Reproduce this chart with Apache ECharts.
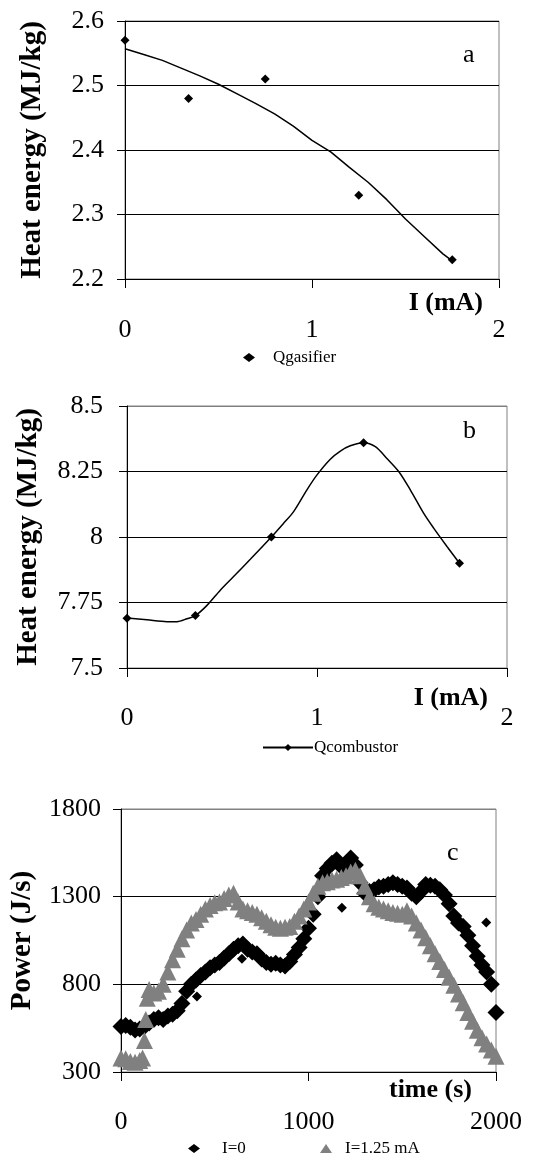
<!DOCTYPE html>
<html>
<head>
<meta charset="utf-8">
<script src="https://cdn.jsdelivr.net/npm/echarts@6/dist/echarts.min.js"></script>
<style>
html,body{margin:0;padding:0;background:#fff;}
#chart{width:533px;height:1154px;}
</style>
</head>
<body>
<div id="chart"></div>
<script>
// ---- Chart a: Qgasifier ----
var aCurrent = [0, 0.34, 0.75, 1.25, 1.75];
var aQgasifier = [2.57, 2.48, 2.51, 2.33, 2.23];
var aTrendX = [0, 0.1, 0.2, 0.3, 0.4, 0.5, 0.6, 0.7, 0.8, 0.9, 1.0, 1.1, 1.2, 1.3, 1.4, 1.5, 1.6, 1.7, 1.75];
var aTrendY = [2.557, 2.548, 2.539, 2.527, 2.515, 2.502, 2.487, 2.472, 2.456, 2.437, 2.415, 2.397, 2.373, 2.350, 2.323, 2.293, 2.266, 2.239, 2.228];
var aYTicks = [2.2, 2.3, 2.4, 2.5, 2.6];
var aXTicks = [0, 1, 2];

var bCurrent = [0, 0.36, 0.76, 1.245, 1.75];
var bQcombustor = [7.69, 7.70, 8.0, 8.36, 7.90];
var bCurveX = [0, 0.105, 0.21, 0.263, 0.316, 0.36, 0.421, 0.491, 0.561, 0.649, 0.76, 0.825, 0.877, 0.947, 1.0, 1.07, 1.123, 1.175, 1.245, 1.307, 1.368, 1.43, 1.491, 1.561, 1.614, 1.684, 1.75];
var bCurveY = [7.691, 7.684, 7.677, 7.677, 7.688, 7.70, 7.739, 7.797, 7.849, 7.915, 8.0, 8.053, 8.097, 8.18, 8.237, 8.297, 8.328, 8.348, 8.36, 8.345, 8.30, 8.25, 8.18, 8.091, 8.034, 7.964, 7.90];
var bYTicks = [7.5, 7.75, 8, 8.25, 8.5];
var bXTicks = [0, 1, 2];

// ---- Chart c: Power vs time ----
var cTimeI0 = [0,25,50,75,100,125,150,175,200,225,250,275,300,325,350,375,400,425,450,475,
  500,525,550,575,600,625,650,675,700,725,750,775,800,825,850,875,900,925,950,975,
  1000,1025,1050,1075,1100,1125,1150,1175,1200,1225,1250,1275,1300,1325,1350,1375,1400,1425,1450,1475,
  1500,1525,1550,1575,1600,1625,1650,1675,1700,1725,1750,1775,1800,1825,1850,1875,1900,1925,1950,1975,2000];
var cPowerI0 = [560,565,555,540,545,560,580,600,610,600,620,630,650,690,760,800,825,850,870,895,
  910,925,950,975,1000,1020,1030,1000,985,975,945,925,915,920,910,905,930,970,1010,1060,
  1120,1200,1300,1420,1460,1490,1510,1470,1490,1520,1480,1380,1320,1330,1340,1355,1360,1370,1380,1370,
  1360,1350,1320,1300,1330,1370,1365,1360,1340,1310,1260,1190,1150,1130,1080,1020,960,910,870,800,640];
var cOutlierTimeI0 = [405, 645, 1178, 1948];
var cOutlierPowerI0 = [731, 946, 1237, 1153];
var cTimeI125 = [0,25,50,75,100,115,125,132,140,150,175,200,225,250,275,300,325,350,375,400,425,450,475,
  500,525,550,575,600,625,650,675,700,725,750,775,800,825,850,875,900,925,950,975,
  1000,1025,1050,1075,1100,1125,1150,1175,1200,1225,1250,1275,1300,1325,1350,1375,1400,1425,1450,1475,
  1500,1525,1550,1575,1600,1625,1650,1675,1700,1725,1750,1775,1800,1825,1850,1875,1900,1925,1950,1975,2000];
var cPowerI125 = [380,375,360,355,365,380,480,600,720,770,750,760,800,870,940,1000,1060,1110,1150,1170,1200,1230,1250,
  1265,1270,1290,1310,1320,1270,1230,1220,1210,1200,1180,1160,1140,1125,1120,1125,1130,1160,1190,1230,
  1270,1320,1360,1380,1385,1395,1400,1410,1420,1440,1450,1420,1360,1300,1260,1240,1230,1220,1210,1205,
  1200,1220,1190,1150,1110,1065,1020,975,930,885,840,795,745,695,640,590,538,495,460,425,390];
var cYTicks = [300, 800, 1300, 1800];
var cXTicks = [0, 1000, 2000];

function pairs(xs, ys) { return xs.map(function (x, i) { return [x, ys[i]]; }); }

var FONT = '"Liberation Serif", "Times New Roman", serif';
var GRID_BORDER = '#808080';
var BLACK = '#000000';
var GRAY = '#808080';

function splitColors(n) {
  var c = [];
  for (var i = 0; i < n - 1; i++) c.push(BLACK);
  c.push(GRID_BORDER);
  return c;
}

function xAxisCfg(gridIndex, ticks, name, nameGap, namePadTop, labelMargin) {
  return {
    gridIndex: gridIndex, type: 'value',
    min: ticks[0], max: ticks[ticks.length - 1], interval: ticks[1] - ticks[0],
    axisLine: { show: true, onZero: false, lineStyle: { color: BLACK, width: 1 } },
    axisTick: { show: true, inside: false, length: 9, lineStyle: { color: BLACK } },
    axisLabel: { margin: labelMargin, fontFamily: FONT, fontSize: 26, color: BLACK,
      formatter: function (v) { return String(v); } },
    splitLine: { show: false },
    name: name, nameLocation: 'end', nameGap: nameGap,
    nameTextStyle: { fontFamily: FONT, fontWeight: 'bold', fontSize: 26, color: BLACK,
      align: 'right', verticalAlign: 'top', padding: [namePadTop, 0, 0, 0] }
  };
}

function yAxisCfg(gridIndex, ticks, name, nameGap, labelMargin, fmt) {
  return {
    gridIndex: gridIndex, type: 'value',
    min: ticks[0], max: ticks[ticks.length - 1], interval: ticks[1] - ticks[0],
    axisLine: { show: true, lineStyle: { color: BLACK, width: 1 } },
    axisTick: { show: true, inside: false, length: 8, lineStyle: { color: BLACK } },
    axisLabel: { margin: labelMargin, fontFamily: FONT, fontSize: 26, color: BLACK, formatter: fmt },
    splitLine: { show: true, lineStyle: { color: splitColors(ticks.length), width: 1 } },
    name: name, nameLocation: 'middle', nameGap: nameGap, nameRotate: 90,
    nameTextStyle: { fontFamily: FONT, fontWeight: 'bold', fontSize: 29, color: BLACK }
  };
}

function legendCfg(left, top, itemWidth, name, icon, textPad) {
  var item = icon ? { name: name, icon: icon } : name;
  return {
    left: left, top: top, padding: 0, itemWidth: itemWidth, itemHeight: 9, itemGap: 0,
    data: [item],
    textStyle: { fontFamily: FONT, fontSize: 17, lineHeight: 14, color: BLACK, padding: [0, 0, 0, textPad] }
  };
}

var option = {
  backgroundColor: '#ffffff',
  animation: false,
  textStyle: { fontFamily: FONT },
  grid: [
    { left: 125, top: 21, width: 374, height: 258, show: true, borderColor: GRID_BORDER, borderWidth: 1 },
    { left: 127, top: 406, width: 380, height: 262, show: true, borderColor: GRID_BORDER, borderWidth: 1 },
    { left: 121, top: 809, width: 375, height: 263, show: true, borderColor: GRID_BORDER, borderWidth: 1 }
  ],
  xAxis: [
    xAxisCfg(0, aXTicks, 'I (mA)', -16, 11, 38),
    xAxisCfg(1, bXTicks, 'I (mA)', -19, 17, 37),
    xAxisCfg(2, cXTicks, 'time (s)', -24, 5, 37)
  ],
  yAxis: [
    yAxisCfg(0, aYTicks, 'Heat energy (MJ/kg)', 78, 21, function (v) { return String(Math.round(v * 10) / 10); }),
    yAxisCfg(1, bYTicks, 'Heat energy (MJ/kg)', 84, 24, function (v) { return String(Math.round(v * 100) / 100); }),
    yAxisCfg(2, cYTicks, 'Power (J/s)', 84, 20, function (v) { return String(v); })
  ],
  legend: [
    legendCfg(243, 349, 12, 'Qgasifier', 'diamond', 13),
    legendCfg(262, 739, 50, 'Qcombustor', null, -4),
    legendCfg(188, 1140, 12, 'I=0', 'diamond', 17),
    legendCfg(320, 1140, 12, 'I=1.25 mA', 'triangle', 8)
  ],
  graphic: [
    { type: 'text', left: 463, top: 42, style: { text: 'a', fontFamily: FONT, fontSize: 26, fill: BLACK } },
    { type: 'text', left: 463, top: 418, style: { text: 'b', fontFamily: FONT, fontSize: 26, fill: BLACK } },
    { type: 'text', left: 447, top: 840, style: { text: 'c', fontFamily: FONT, fontSize: 26, fill: BLACK } }
  ],
  series: [
    { name: 'Qgasifier', type: 'scatter', xAxisIndex: 0, yAxisIndex: 0,
      symbol: 'diamond', symbolSize: 9, itemStyle: { color: BLACK, opacity: 1 },
      data: pairs(aCurrent, aQgasifier), z: 3 },
    { name: 'trend', type: 'line', xAxisIndex: 0, yAxisIndex: 0,
      showSymbol: false, symbol: 'none', lineStyle: { color: BLACK, width: 1.5 },
      data: pairs(aTrendX, aTrendY), z: 2 },
    { name: 'Qcombustor', type: 'line', xAxisIndex: 1, yAxisIndex: 1,
      smooth: 0.3, symbol: 'diamond', symbolSize: 9, showSymbol: false,
      itemStyle: { color: BLACK, opacity: 1 }, lineStyle: { color: BLACK, width: 1.5 },
      data: pairs(bCurveX, bCurveY), z: 2 },
    { name: 'Qcombustor', type: 'scatter', xAxisIndex: 1, yAxisIndex: 1,
      symbol: 'diamond', symbolSize: 9, itemStyle: { color: BLACK, opacity: 1 },
      data: pairs(bCurrent, bQcombustor), z: 3 },
    { name: 'I=0', type: 'scatter', xAxisIndex: 2, yAxisIndex: 2,
      symbol: 'diamond', symbolSize: 17, itemStyle: { color: BLACK, opacity: 1 },
      data: pairs(cTimeI0, cPowerI0), z: 2 },
    { name: 'I=0', type: 'scatter', xAxisIndex: 2, yAxisIndex: 2,
      symbol: 'diamond', symbolSize: 10, itemStyle: { color: BLACK, opacity: 1 },
      data: pairs(cOutlierTimeI0, cOutlierPowerI0), z: 2 },
    { name: 'I=1.25 mA', type: 'scatter', xAxisIndex: 2, yAxisIndex: 2,
      symbol: 'triangle', symbolSize: 17, itemStyle: { color: GRAY, opacity: 1 },
      data: pairs(cTimeI125, cPowerI125), z: 3 }
  ]
};

var chart = echarts.init(document.getElementById('chart'), null, { renderer: 'canvas' });
chart.setOption(option);
</script>
</body>
</html>
